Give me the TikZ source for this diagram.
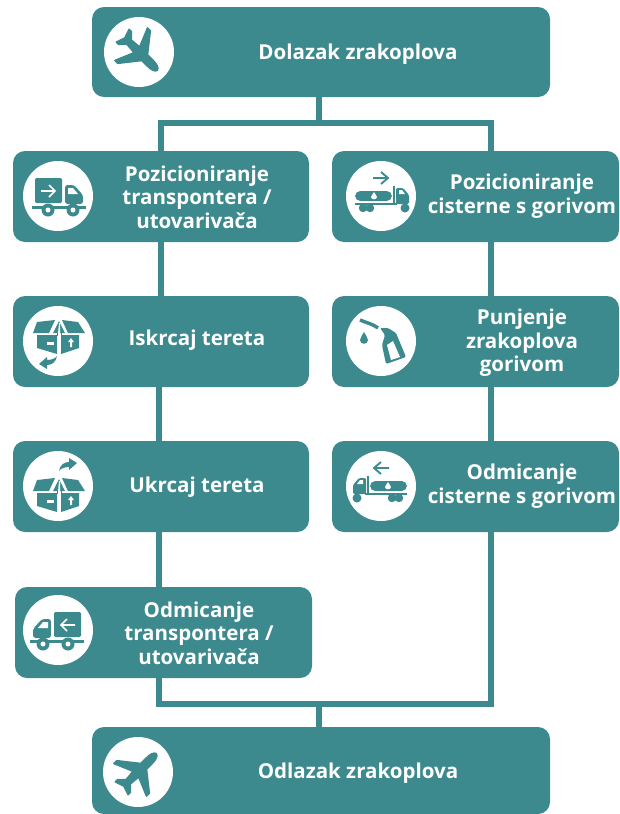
\documentclass[tikz,border=0pt]{standalone}
\usepackage{fontspec}
\setmainfont{Open Sans}
\definecolor{tl}{HTML}{3C8A8D}
\tikzset{
  x=0.75pt,y=-0.75pt,
  flowbox/.style={fill=tl,rounded corners=9pt,inner sep=0pt,minimum width=#1*0.75pt},
  hA/.style={minimum height=91*0.75pt},
  link/.style={draw=tl,line width=4.2pt},
  lab/.style={text=white,align=center,font=\bfseries\fontsize{15.4pt}{17.6pt}\selectfont,inner sep=0pt},
  disc/.style={circle,fill=white,minimum size=52.5pt,inner sep=0pt},
  tealf/.style={fill=tl,draw=tl,line join=round},
  planeicon/.pic={
    \path[tealf,line width=1.2pt] (0,-26) .. controls (3,-25) and (4,-21) .. (4,-16) -- (4,-8) -- (23,7) -- (23,11) -- (4,3) -- (3,14) -- (9,20) -- (9,23) -- (0,20) -- (-9,23) -- (-9,20) -- (-3,14) -- (-4,3) -- (-23,11) -- (-23,7) -- (-4,-8) -- (-4,-16) .. controls (-4,-21) and (-3,-25) .. (0,-26) -- cycle;
  },
  truckicon/.pic={
    \fill[tl,rounded corners=1pt] (-23,-18) rectangle (4,7);
    \draw[white,line width=1.2pt] (-17,-5) -- (-3,-5) (-9,-11) -- (-3,-5) -- (-9,1);
    \fill[tl,rounded corners=2pt] (7,8) -- (7,-11) -- (16,-11) -- (25,-1) -- (25,8) -- cycle;
    \fill[white] (10,-8) -- (15,-8) -- (20,-2) -- (10,-2) -- cycle;
    \fill[tl] (-26,10) rectangle (28,13);
    \fill[tl] (-10,14) circle (6.5) (15,14) circle (6.5);
    \fill[white] (-10,14) circle (2.5) (15,14) circle (2.5);
  },
  tankicon/.pic={
    \fill[tl,rounded corners=4pt] (-26,-5) rectangle (11,5);
    \fill[tl] (-26,7) rectangle (16,9);
    \fill[tl] (12,-10) rectangle (14,8);
    \fill[tl,rounded corners=1pt] (15,-8) -- (22,-8) -- (28,-1) -- (28,8) -- (15,8) -- cycle;
    \fill[white] (18,-6) -- (21,-6) -- (24,-2) -- (18,-2) -- cycle;
    \fill[white] (-7,-4) .. controls (-6,-2) and (-4,0) .. (-4,1) .. controls (-4,4) and (-10,4) .. (-10,1) .. controls (-10,0) and (-8,-2) .. (-7,-4) -- cycle;
    \fill[tl] (-18,12) circle (4.2) (-11,12) circle (4.2) (24,12) circle (4.5);
    \draw[tl,line width=1.4pt] (-8,-18) -- (7,-18) (0,-24) -- (7,-18) -- (0,-12);
  },
  nozzleicon/.pic={
    \draw[tl,line width=2.6pt] (-21,-21) .. controls (-14,-18) and (-8,-17) .. (-3,-13);
    \fill[tl,rounded corners=1pt] (-1,-13) -- (7,-13) -- (15,-8) -- (25,16) -- (5,23) -- (1,4) -- (4,-6) -- cycle;
    \fill[white] (6,4) -- (12,0) -- (19,16) -- (10,19) -- cycle;
    \fill[tl] (-17,-9) .. controls (-16,-6) and (-13,-4) .. (-13,-1) .. controls (-13,4) and (-21,4) .. (-21,-1) .. controls (-21,-4) and (-18,-6) .. (-17,-9) -- cycle;
  },
  boxicon/.pic={
    \fill[tl] (-21,-6) -- (-1,-6) -- (-1,13) -- (-21,7) -- cycle;
    \fill[tl] (3,-6) -- (21,-6) -- (21,7) -- (3,13) -- cycle;
    \fill[tl] (-25,-8) -- (-21,-19) -- (-3,-21) -- (-9,-8) -- cycle;
    \fill[tl] (27,-8) -- (20,-19) -- (4,-21) -- (10,-8) -- cycle;
    \fill[tl] (1,-20) -- (-5,-8) -- (7,-8) -- cycle;
    \draw[tl,line width=0.7pt] (-1,-8) -- (-1,-5) (3,-8) -- (3,-5);
    \fill[white] (1,-18) -- (2,-18) -- (2,-7) -- (0,-7) -- cycle;
    \fill[white] (-11,1) rectangle (-4,4);
    \fill[white] (13,-3) -- (16,1) -- (14,1) -- (14,6) -- (12,6) -- (12,1) -- (10,1) -- cycle;
  },
  curvearrow/.pic={
    \fill[tl] (-19,23) -- (-11,16) -- (-11,19) .. controls (-6,19) and (-2,17) .. (-1,15) .. controls (-2,21) and (-6,24) .. (-11,24) -- (-11,28) -- cycle;
  }
}
\begin{document}
\begin{tikzpicture}
\useasboundingbox (0,0) rectangle (619,814);
\coordinate (jt) at (319,123);
\coordinate (jl) at (161,123);
\coordinate (jr) at (491,123);
\coordinate (kb) at (319,704);
\coordinate (kl) at (159,704);
\coordinate (kr) at (491,704);
\node[flowbox=458,minimum height=90*0.75pt] (arr) at (321,52) {};
\node[flowbox=458,minimum height=87*0.75pt] (dep) at (321,770.5) {};
\node[flowbox=296,hA] (a1) at (161,196.5) {};
\node[flowbox=296,hA] (a2) at (161,341.5) {};
\node[flowbox=296,hA] (a3) at (161,486.5) {};
\node[flowbox=297,hA] (a4) at (163.5,632.5) {};
\node[flowbox=287,hA] (b1) at (475.5,196.5) {};
\node[flowbox=287,hA] (b2) at (475.5,341.5) {};
\node[flowbox=287,hA] (b3) at (475.5,486.5) {};
\draw[link] (jt |- arr.south) -- (jt);
\draw[link,line cap=rect] (jl) -- (jr);
\draw[link] (jl) -- (jl |- a1.north);
\draw[link] (jr) -- (jr |- b1.north);
\draw[link] (a1.south) -- (a2.north);
\draw[link] (kl |- a2.south) -- (kl |- a3.north);
\draw[link] (kl |- a3.south) -- (kl |- a4.north);
\draw[link] (kl |- a4.south) -- (kl);
\draw[link] (jr |- b1.south) -- (jr |- b2.north);
\draw[link] (jr |- b2.south) -- (jr |- b3.north);
\draw[link] (jr |- b3.south) -- (kr);
\draw[link,line cap=rect] (kl) -- (kr);
\draw[link] (kb) -- (kb |- dep.north);
\node[disc] (d0) at (139,52) {};
\node[disc] (d1) at (58,196) {};
\node[disc] (d2) at (58,341) {};
\node[disc] (d3) at (58,486) {};
\node[disc] (d4) at (58,630) {};
\node[disc] (d5) at (138,772) {};
\node[disc] (e1) at (381,196) {};
\node[disc] (e2) at (381,341) {};
\node[disc] (e3) at (381,486) {};
\pic[rotate=-135] at (d0) {planeicon};
\pic[rotate=-45] at (d5) {planeicon};
\pic at (d1) {truckicon};
\pic[xscale=-1] at (d4) {truckicon};
\pic at (d2) {boxicon};
\pic at (d2) {curvearrow};
\pic[yshift=-9.75pt] at (d3) {boxicon};
\pic[rotate=180] at (d3) {curvearrow};
\pic at (e1) {tankicon};
\pic at (e2) {nozzleicon};
\pic[xscale=-1] at (e3) {tankicon};
\node[lab] (t0) at (358,54.5) {Dolazak zrakoplova};
\node[lab] (t5) at (358,773.5) {Odlazak zrakoplova};
\node[lab] (t1) at (197,197) {Pozicioniranje\\transpontera /\\utovarivača};
\node[lab] (t2) at (197,340.5) {Iskrcaj tereta};
\node[lab] (t3) at (197,487.5) {Ukrcaj tereta};
\node[lab] (t4) at (199,633) {Odmicanje\\transpontera /\\utovarivača};
\node[lab] (u1) at (522,196) {Pozicioniranje\\cisterne s gorivom};
\node[lab] (u2) at (522,343) {Punjenje\\zrakoplova\\gorivom};
\node[lab] (u3) at (522,486) {Odmicanje\\cisterne s gorivom};
\end{tikzpicture}
\end{document}
